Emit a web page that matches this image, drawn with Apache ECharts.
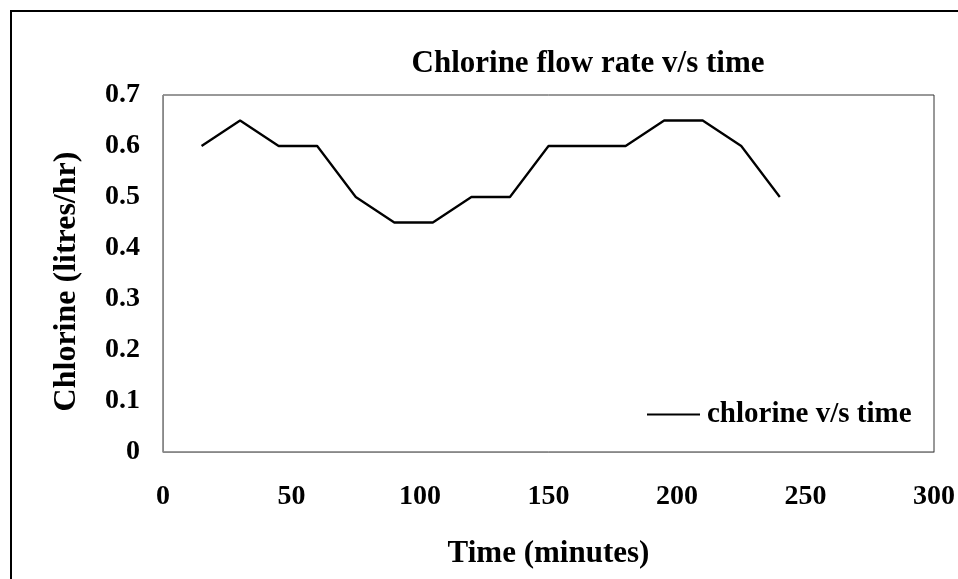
<!DOCTYPE html>
<html>
<head>
<meta charset="utf-8">
<script src="https://cdn.jsdelivr.net/npm/echarts@6/dist/echarts.min.js"></script>
<style>
  html, body { margin: 0; padding: 0; background: #fff; }
  #chart { width: 958px; height: 579px; }
</style>
</head>
<body>
<div id="chart"></div>
<script>
// Time in minutes and chlorine flow in litres per hour
const timeMinutes = [15, 30, 45, 60, 75, 90, 105, 120, 135, 150, 165, 180, 195, 210, 225, 240];
const chlorineFlow = [0.6, 0.65, 0.6, 0.6, 0.5, 0.45, 0.45, 0.5, 0.5, 0.6, 0.6, 0.6, 0.65, 0.65, 0.6, 0.5];
const seriesName = 'chlorine v/s time';
const chartTitle = 'Chlorine flow rate v/s time';
const xTitle = 'Time (minutes)';
const yTitle = 'Chlorine (litres/hr)';

const serif = '"Liberation Serif", "Times New Roman", serif';
const points = timeMinutes.map((t, i) => [t, chlorineFlow[i]]);

const chart = echarts.init(document.getElementById('chart'));
chart.setOption({
  animation: false,
  backgroundColor: '#fff',
  textStyle: { fontFamily: serif, color: '#000' },
  title: {
    text: chartTitle,
    left: 583,
    top: 43,
    textAlign: 'center',
    textStyle: { fontFamily: serif, fontWeight: 'bold', fontSize: 31, color: '#000' }
  },
  graphic: [{
    type: 'rect',
    shape: { x: 11, y: 11, width: 960, height: 600 },
    style: { fill: null, stroke: '#000', lineWidth: 2 },
    silent: true
  }],
  legend: {
    left: 647,
    top: 400,
    padding: 0,
    itemWidth: 53,
    itemHeight: 2,
    itemGap: 0,
    icon: 'rect',
    data: [{ name: seriesName, itemStyle: { color: '#000' } }],
    textStyle: { fontFamily: serif, fontWeight: 'bold', fontSize: 29, color: '#000', padding: [0, 0, 0, 2] }
  },
  grid: {
    left: 163, top: 95, right: 24, bottom: 127,
    show: true, borderColor: '#333', borderWidth: 1, backgroundColor: '#fff'
  },
  xAxis: {
    type: 'value',
    min: 0, max: 300, interval: 50,
    name: xTitle,
    nameLocation: 'middle',
    nameGap: 86,
    nameTextStyle: { fontFamily: serif, fontWeight: 'bold', fontSize: 31, color: '#000' },
    axisLine: { show: true, lineStyle: { color: '#888', width: 1 } },
    axisTick: { show: false },
    splitLine: { show: false },
    axisLabel: { margin: 31, fontFamily: serif, fontWeight: 'bold', fontSize: 28, color: '#000' }
  },
  yAxis: {
    type: 'value',
    min: 0, max: 0.7, interval: 0.1,
    name: yTitle,
    nameLocation: 'middle',
    nameGap: 80,
    nameRotate: 90,
    nameTextStyle: { fontFamily: serif, fontWeight: 'bold', fontSize: 32, color: '#000', padding: [0, 16, 0, 0] },
    axisLine: { show: true, lineStyle: { color: '#888', width: 1 } },
    axisTick: { show: false },
    splitLine: { show: false },
    axisLabel: { margin: 23, fontFamily: serif, fontWeight: 'bold', fontSize: 28, color: '#000',
      formatter: v => (Math.round(v * 10) / 10).toString() }
  },
  series: [{
    name: seriesName,
    type: 'line',
    data: points,
    showSymbol: false,
    symbol: 'none',
    lineStyle: { color: '#000', width: 2.3 },
    itemStyle: { color: '#000' }
  }]
});
</script>
</body>
</html>
